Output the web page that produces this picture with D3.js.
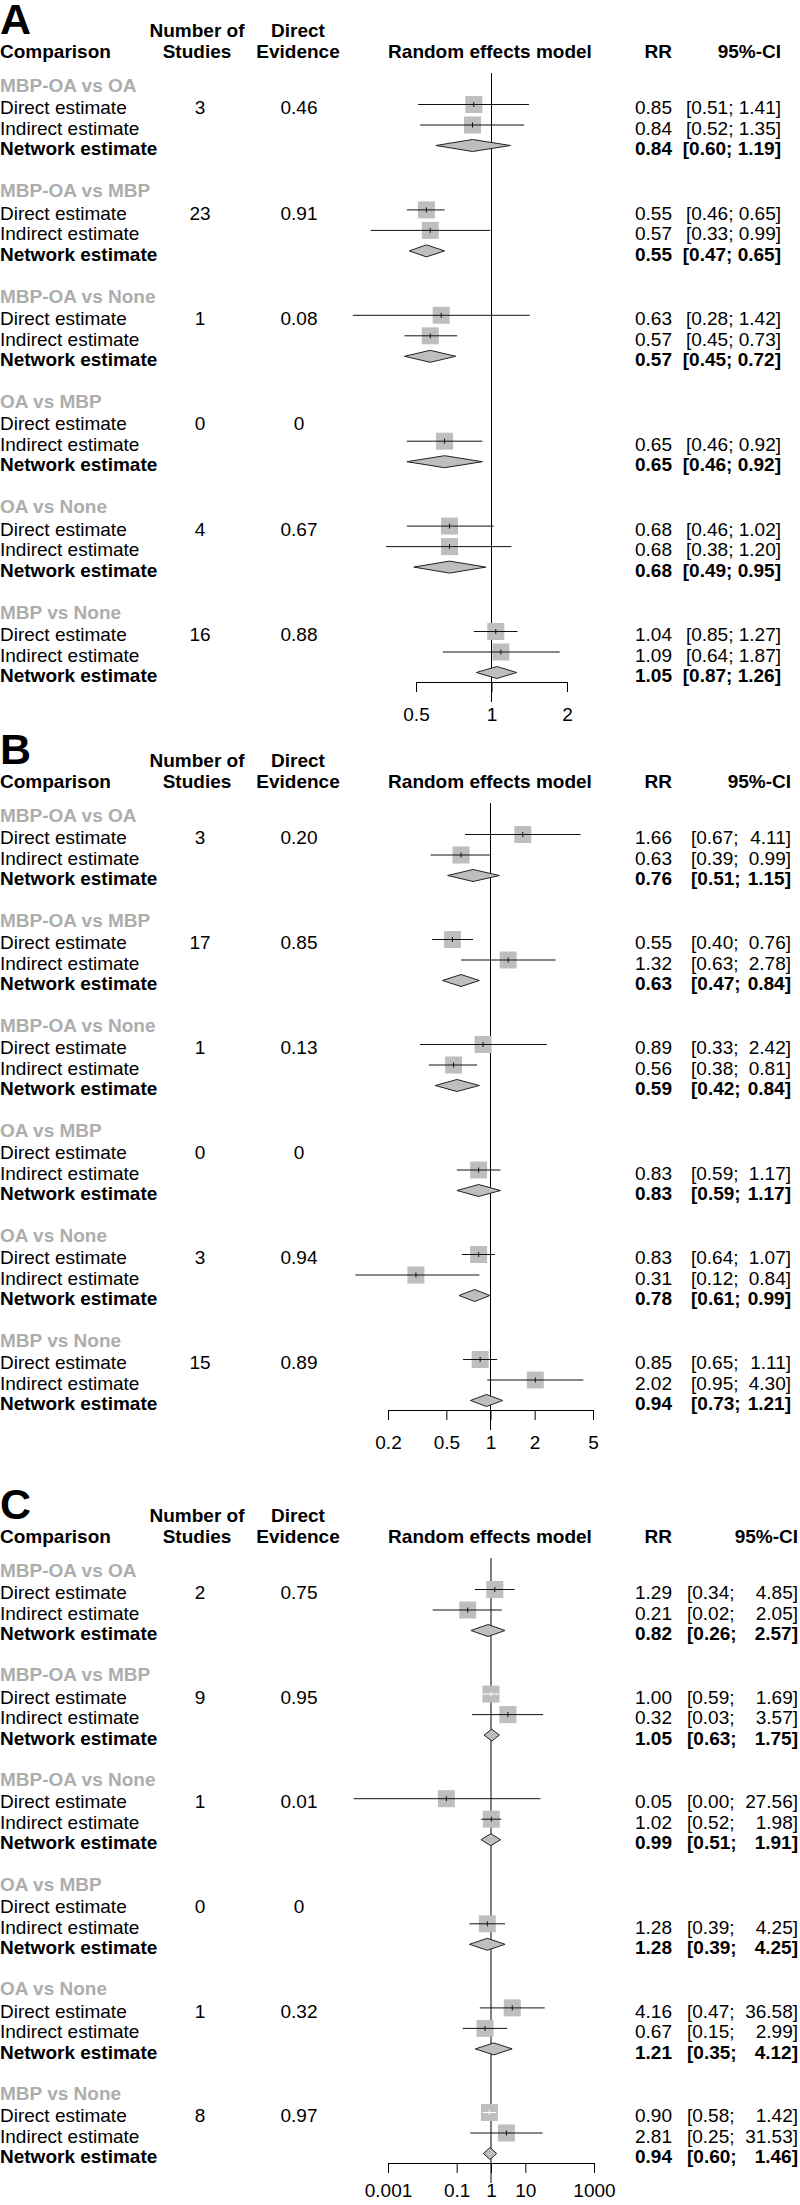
<!DOCTYPE html>
<html><head><meta charset="utf-8">
<script src="https://cdn.jsdelivr.net/npm/d3@7"></script>
<style>
body{margin:0;background:#fff}
svg{display:block}
text{font-family:"Liberation Sans",Arial,Helvetica,sans-serif}
</style>
</head><body>
<svg id="chart" width="800" height="2205"></svg>
<script>
// ---------- DATA ----------
const comparisons = ["MBP-OA vs OA","MBP-OA vs MBP","MBP-OA vs None","OA vs MBP","OA vs None","MBP vs None"];
const rowLabels = ["Direct estimate","Indirect estimate","Network estimate"];
const panelLetters = ["A","B","C"];

// Panel A
const studiesA  = [3, 23, 1, 0, 4, 16];
const evidenceA = ["0.46","0.91","0.08","0","0.67","0.88"];
const directA   = [[0.85,0.51,1.41],[0.55,0.46,0.65],[0.63,0.28,1.42],null,[0.68,0.46,1.02],[1.04,0.85,1.27]];
const indirectA = [[0.84,0.52,1.35],[0.57,0.33,0.99],[0.57,0.45,0.73],[0.65,0.46,0.92],[0.68,0.38,1.20],[1.09,0.64,1.87]];
const networkA  = [[0.84,0.60,1.19],[0.55,0.47,0.65],[0.57,0.45,0.72],[0.65,0.46,0.92],[0.68,0.49,0.95],[1.05,0.87,1.26]];
const ticksA = [0.5, 1, 2];
const tickLabelsA = ["0.5","1","2"];

// Panel B
const studiesB  = [3, 17, 1, 0, 3, 15];
const evidenceB = ["0.20","0.85","0.13","0","0.94","0.89"];
const directB   = [[1.66,0.67,4.11],[0.55,0.40,0.76],[0.89,0.33,2.42],null,[0.83,0.64,1.07],[0.85,0.65,1.11]];
const indirectB = [[0.63,0.39,0.99],[1.32,0.63,2.78],[0.56,0.38,0.81],[0.83,0.59,1.17],[0.31,0.12,0.84],[2.02,0.95,4.30]];
const networkB  = [[0.76,0.51,1.15],[0.63,0.47,0.84],[0.59,0.42,0.84],[0.83,0.59,1.17],[0.78,0.61,0.99],[0.94,0.73,1.21]];
const ticksB = [0.2, 0.5, 1, 2, 5];
const tickLabelsB = ["0.2","0.5","1","2","5"];

// Panel C
const studiesC  = [2, 9, 1, 0, 1, 8];
const evidenceC = ["0.75","0.95","0.01","0","0.32","0.97"];
const directC   = [[1.29,0.34,4.85],[1.00,0.59,1.69],[0.05,0.00,27.56],null,[4.16,0.47,36.58],[0.90,0.58,1.42]];
const indirectC = [[0.21,0.02,2.05],[0.32,0.03,3.57],[1.02,0.52,1.98],[1.28,0.39,4.25],[0.67,0.15,2.99],[2.81,0.25,31.53]];
const networkC  = [[0.82,0.26,2.57],[1.05,0.63,1.75],[0.99,0.51,1.91],[1.28,0.39,4.25],[1.21,0.35,4.12],[0.94,0.60,1.46]];
const ticksC = [0.001, 0.1, 1, 10, 1000];
const tickLabelsC = ["0.001","0.1","1","10","1000"];
// Marks in panel C that are drawn at positions different from the printed values
const plottedOverridesC = [
  {group:1, row:1, est:3.1,  lo:0.28,   hi:33},
  {group:2, row:0, est:0.05, lo:0.0001, hi:27.56},
  {group:3, row:1, est:0.78, lo:0.235,  hi:2.56},
  {group:3, row:2, est:0.78, lo:0.235,  hi:2.56}
];

// ---------- LAYOUT ----------
const FS = 19;
const FONT = '"Liberation Sans",Arial,Helvetica,sans-serif';
const GREY_LABEL = "#adadad";
const SQUARE = "#bebebe";
const panels = [
  {letter:panelLetters[0], studies:studiesA, evidence:evidenceA, rows:[directA,indirectA,networkA], ticks:ticksA, tickLabels:tickLabelsA, overrides:[],
   firstLabel:85, lastLabel:612, range:[416,567], ciStart:685, ciEnd:781, joined:true, pad:16},
  {letter:panelLetters[1], studies:studiesB, evidence:evidenceB, rows:[directB,indirectB,networkB], ticks:ticksB, tickLabels:tickLabelsB, overrides:[],
   firstLabel:815, lastLabel:1340, range:[388,593], ciStart:691, ciEnd:791, joined:false, pad:16},
  {letter:panelLetters[2], studies:studiesC, evidence:evidenceC, rows:[directC,indirectC,networkC], ticks:ticksC, tickLabels:tickLabelsC, overrides:plottedOverridesC,
   firstLabel:1570, lastLabel:2093, range:[388,594], ciStart:687, ciEnd:798, joined:false, pad:11}
];
const ROW_OFFS = [22.5, 43, 63.5];
const BASE = 6.7;      // text center -> baseline
const MARK_UP = 3;     // marks sit slightly above text center
const SQ = 17;         // square size
const DH = 6;          // diamond half-height

const svg = d3.select("#chart");
const fmt = d3.format(".2f");
const xRR = 672, xStud = 200, xEvid = 299;

panels.forEach(p => {
  const g = svg.append("g").attr("font-family", FONT).attr("font-size", FS);
  const L0 = p.firstLabel;
  const step = (p.lastLabel - p.firstLabel) / (comparisons.length - 1);
  const x = d3.scaleLog().domain(d3.extent(p.ticks)).range(p.range);

  // panel letter
  g.append("text").attr("x", 0).attr("y", L0 - 51).attr("font-size", 43).attr("font-weight", "bold").text(p.letter);

  // headers
  const h1 = L0 - 55 + BASE, h2 = L0 - 34 + BASE;
  const hdr = (txt, xx, yy, anchor) => g.append("text").attr("x", xx).attr("y", yy)
      .attr("text-anchor", anchor).attr("font-weight", "bold").text(txt);
  hdr("Number of", 197, h1, "middle");
  hdr("Direct", 298, h1, "middle");
  hdr("Comparison", 0, h2, "start");
  hdr("Studies", 197, h2, "middle");
  hdr("Evidence", 298, h2, "middle");
  hdr("Random effects model", 490, h2, "middle");
  hdr("RR", xRR, h2, "end");
  hdr("95%-CI", p.ciEnd, h2, "end");

  // axis position
  const axisY = p.lastLabel + 70;

  // reference line at RR = 1
  g.append("line").attr("x1", x(1)).attr("x2", x(1)).attr("y1", L0 - 12).attr("y2", axisY + 20)
    .attr("stroke", "#000").attr("stroke-width", 1);

  comparisons.forEach((comp, gi) => {
    const ly = L0 + gi * step;
    g.append("text").attr("x", 0).attr("y", ly + BASE).attr("font-weight", "bold")
      .attr("fill", GREY_LABEL).text(comp);

    // studies & direct evidence on the direct row
    const dy = ly + ROW_OFFS[0] + BASE;
    g.append("text").attr("x", xStud).attr("y", dy).attr("text-anchor", "middle").text(p.studies[gi]);
    g.append("text").attr("x", xEvid).attr("y", dy).attr("text-anchor", "middle").text(p.evidence[gi]);

    rowLabels.forEach((rl, ri) => {
      const cy = ly + ROW_OFFS[ri];
      const bold = ri === 2 ? "bold" : "normal";
      g.append("text").attr("x", 0).attr("y", cy + BASE).attr("font-weight", bold).text(rl);
      const v = p.rows[ri][gi];
      if (!v) return;
      // text columns
      g.append("text").attr("x", xRR).attr("y", cy + BASE).attr("text-anchor", "end").attr("font-weight", bold).text(fmt(v[0]));
      if (p.joined) {
        g.append("text").attr("x", p.ciEnd).attr("y", cy + BASE).attr("text-anchor", "end").attr("font-weight", bold)
          .text("[" + fmt(v[1]) + "; " + fmt(v[2]) + "]");
      } else {
        g.append("text").attr("x", p.ciStart).attr("y", cy + BASE).attr("text-anchor", "start").attr("font-weight", bold).text("[" + fmt(v[1]) + ";");
        g.append("text").attr("x", p.ciEnd).attr("y", cy + BASE).attr("text-anchor", "end").attr("font-weight", bold).text(fmt(v[2]) + "]");
      }

      // plotted values
      const ov = p.overrides.find(o => o.group === gi && o.row === ri);
      const est = ov ? ov.est : v[0], lo = ov ? ov.lo : v[1], hi = ov ? ov.hi : v[2];
      const my = cy - MARK_UP;
      const xe = x(est), xl = x(lo), xh = x(hi);
      if (ri < 2) {
        g.append("rect").attr("x", xe - SQ / 2).attr("y", my - SQ / 2).attr("width", SQ).attr("height", SQ)
          .attr("fill", SQUARE);
        const inside = xl >= xe - SQ / 2 && xh <= xe + SQ / 2;
        const col = inside ? "#fff" : "#111";
        g.append("line").attr("x1", xl).attr("x2", xh).attr("y1", my).attr("y2", my)
          .attr("stroke", col).attr("stroke-width", 1);
        g.append("line").attr("x1", xe).attr("x2", xe).attr("y1", my - 2.5).attr("y2", my + 2.5)
          .attr("stroke", col).attr("stroke-width", 1);
      } else {
        g.append("path")
          .attr("d", `M${xl},${my}L${xe},${my - DH}L${xh},${my}L${xe},${my + DH}Z`)
          .attr("fill", SQUARE).attr("stroke", "#222").attr("stroke-width", 1);
      }
    });
  });

  // axis
  const ax = d3.axisBottom(x).tickValues(p.ticks).tickFormat((d, i) => p.tickLabels[i])
    .tickSize(10).tickSizeOuter(0).tickPadding(p.pad);
  const ag = g.append("g").attr("transform", `translate(0,${axisY})`).call(ax);
  ag.attr("font-family", FONT).attr("font-size", FS);
  ag.selectAll("path,line").attr("stroke", "#000").attr("stroke-width", 1);
  ag.selectAll("text").attr("fill", "#000");
});
</script>
</body></html>
